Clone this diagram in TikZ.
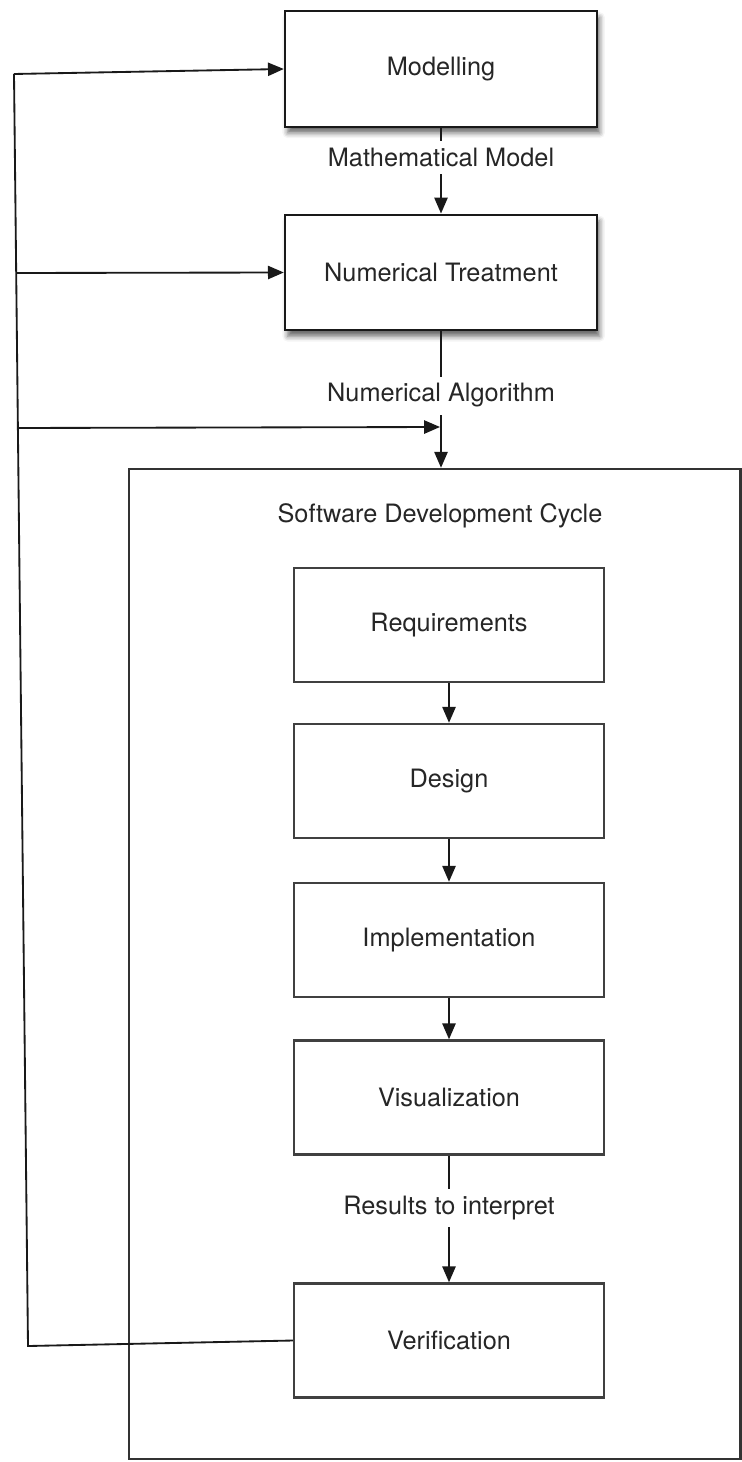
\documentclass[tikz,border=0pt]{standalone}
\usepackage{fontspec}
\setmainfont{TeX Gyre Heros}
\usetikzlibrary{arrows.meta,shadows.blur}

\begin{document}
\begin{tikzpicture}[
  x=0.02cm, y=-0.02cm,
  every node/.style={font=\fontsize{14.4}{17}\selectfont, text=black!85},
  topbox/.style={draw=black!90, line width=1.4pt, fill=white, inner sep=0pt,
    minimum width=6.24cm, minimum height=2.31cm,
    blur shadow={shadow xshift=1.5pt, shadow yshift=-3.5pt, shadow blur radius=3pt, shadow opacity=60}},
  stagebox/.style={draw=black!75, line width=1.4pt, fill=white, inner sep=0pt,
    minimum width=6.2cm, minimum height=2.28cm},
  framebox/.style={draw=black!80, line width=1.5pt, inner sep=0pt},
  lbl/.style={fill=white, inner xsep=2pt, inner ysep=4pt},
  conn/.style={draw=black!90, line width=1.05pt},
  arr/.style={conn, -{Triangle[length=9pt, width=7.5pt]}},
]
\useasboundingbox (0,0) rectangle (742,1462);

% upper stages
\node[topbox] (model) at (441,69) {Modelling};
\node[topbox] (numt) at (441,272.5) {Numerical Treatment};

% software development cycle frame
\node[framebox, minimum width=12.23cm, minimum height=19.8cm] (sdc) at (434.75,964) {};
\node (sdctitle) at (440,516) {Software Development Cycle};

% cycle stages
\node[stagebox] (req) at (449,625) {Requirements};
\node[stagebox] (des) at (449,781) {Design};
\node[stagebox] (imp) at (449,940) {Implementation};
\node[stagebox] (vis) at (449,1097.5) {Visualization};
\node[stagebox] (ver) at (449,1340.5) {Verification};

% main flow
\draw[arr] (model.south) -- node[lbl, pos=0.35] {Mathematical Model} (numt.north);
\coordinate (sdcin) at (numt.south |- sdc.north);
\draw[arr] (numt.south) -- node[lbl, pos=0.47] {Numerical Algorithm} (sdcin);
\draw[arr] (req) -- (des);
\draw[arr] (des) -- (imp);
\draw[arr] (imp) -- (vis);
\draw[arr] (vis) -- node[lbl, pos=0.41] {Results to interpret} (ver);

% feedback loop from verification
\coordinate (fbbottom) at (28,1346);
\coordinate (fbtop) at (14,74);
\coordinate (fbnum) at (16.2,273);
\coordinate (fbalg) at (17.9,428);
\coordinate (algjoin) at (440,427);
\draw[conn, line join=miter] (ver.west) -- (fbbottom) -- (fbtop);
\draw[arr] (fbtop) -- (model.west);
\draw[arr] (fbnum) -- (numt.west);
\draw[arr] (fbalg) -- (algjoin);
\end{tikzpicture}
\end{document}
